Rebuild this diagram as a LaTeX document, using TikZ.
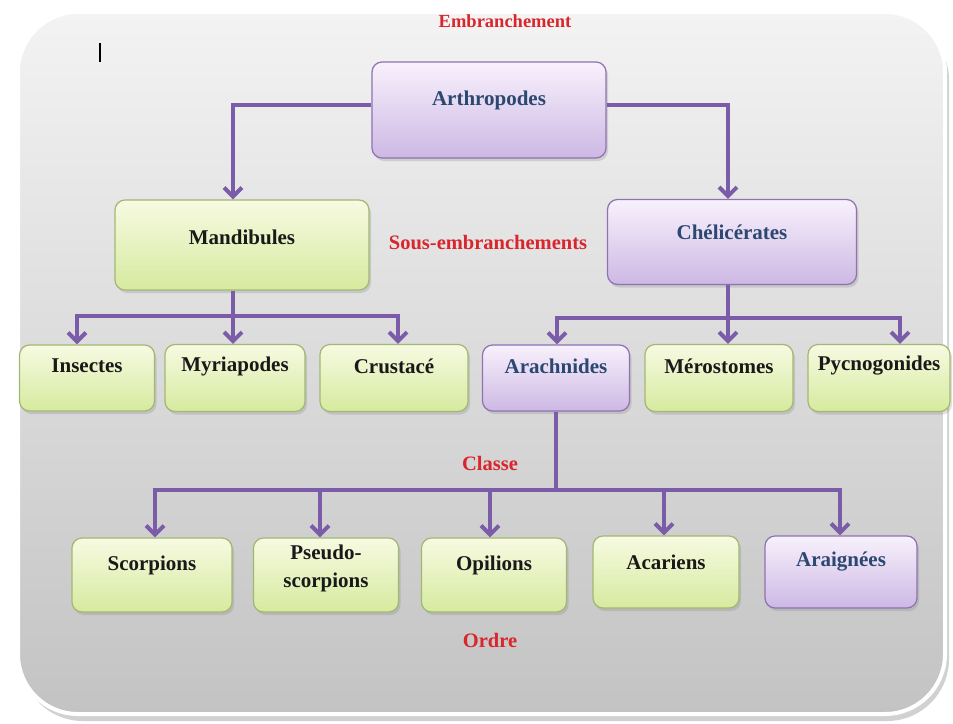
\documentclass[tikz,border=0pt]{standalone}
\usepackage{fontspec}
\setmainfont{Liberation Serif}
\usetikzlibrary{arrows.meta,shadows}
\definecolor{arrowc}{HTML}{7A5CA8}
\definecolor{gtop}{HTML}{F7FAE2}
\definecolor{gbot}{HTML}{D6EA9E}
\definecolor{gborder}{HTML}{A2B872}
\definecolor{ptop}{HTML}{F8F1FC}
\definecolor{pbot}{HTML}{CDB8E4}
\definecolor{pborder}{HTML}{8E72B2}
\definecolor{pblue}{HTML}{2C4770}
\definecolor{labred}{HTML}{D8262C}
\definecolor{paneltop}{HTML}{F3F3F3}
\definecolor{panelbot}{HTML}{C3C3C3}
\begin{document}
\begin{tikzpicture}[x=1pt,y=-1pt,
  box/.style={line width=1.2pt, rounded corners=10pt, drop shadow={shadow xshift=2pt, shadow yshift=-3pt, opacity=.25}},
  gbox/.style={box, draw=gborder, top color=gtop, bottom color=gbot},
  pbox/.style={box, draw=pborder, top color=ptop, bottom color=pbot},
  ntext/.style={font=\fontsize{21}{28}\selectfont\bfseries, text=black!90, align=center},
  ptext/.style={ntext, text=pblue},
  lab/.style={font=\fontsize{20.5}{24}\selectfont\bfseries, text=labred},
  conn/.style={draw=arrowc, line width=4pt, -{Straight Barb[length=9pt,width=18pt]}},
]
\useasboundingbox (0,0) rectangle (953,723);
% panel
\fill[black, opacity=.18, rounded corners=62pt] (21,18) rectangle (949,721);
\draw[white, line width=4pt, rounded corners=60pt, top color=paneltop, bottom color=panelbot] (18,12) rectangle (945,714);
\draw[black, line width=1.5pt] (100,43) -- (100,62);

% boxes
\node[pbox, minimum width=234pt, minimum height=96pt] (arth) at (489,110) {};
\node[gbox, minimum width=254pt, minimum height=90pt] (mand) at (242,245) {};
\node[pbox, minimum width=249pt, minimum height=85pt] (chel) at (732,242) {};
\node[gbox, minimum width=135pt, minimum height=66pt] (ins) at (87,378) {};
\node[gbox, minimum width=140pt, minimum height=67pt] (myr) at (235,378) {};
\node[gbox, minimum width=148pt, minimum height=67pt] (crus) at (394,378) {};
\node[pbox, minimum width=147pt, minimum height=66pt] (arach) at (556,378) {};
\node[gbox, minimum width=148pt, minimum height=67pt] (mero) at (719,378) {};
\node[gbox, minimum width=142pt, minimum height=67pt] (pycno) at (879,378) {};
\node[gbox, minimum width=160pt, minimum height=74pt] (scor) at (152,575) {};
\node[gbox, minimum width=145pt, minimum height=74pt] (pseu) at (326,575) {};
\node[gbox, minimum width=145pt, minimum height=74pt] (opil) at (494,575) {};
\node[gbox, minimum width=146pt, minimum height=72pt] (acar) at (666,572) {};
\node[pbox, minimum width=152pt, minimum height=72pt] (araig) at (841,572) {};

% texts
\node[ptext] (arthT) at ([yshift=10pt]arth.center) {Arthropodes};
\node[ntext] (mandT) at ([yshift=8pt]mand.center) {Mandibules};
\node[ptext] (chelT) at ([yshift=10pt]chel.center) {Chélicérates};
\node[ntext] (insT) at ([yshift=12pt]ins.center) {Insectes};
\node[ntext] (myrT) at ([yshift=12pt]myr.center) {Myriapodes};
\node[ntext] (crusT) at ([yshift=12pt]crus.center) {Crustacé};
\node[ptext] (arachT) at ([yshift=12pt]arach.center) {Arachnides};
\node[ntext] (meroT) at ([yshift=12pt]mero.center) {Mérostomes};
\node[ntext] (pycnoT) at ([yshift=12pt]pycno.center) {Pycnogonides};
\node[ntext] (scorT) at ([yshift=10pt]scor.center) {Scorpions};
\node[ntext] (pseuT) at ([yshift=7pt]pseu.center) {Pseudo-\\scorpions};
\node[ntext] (opilT) at ([yshift=10pt]opil.center) {Opilions};
\node[ntext] (acarT) at ([yshift=10pt]acar.center) {Acariens};
\node[ptext] (araigT) at ([yshift=10pt]araig.center) {Araignées};

% labels
\node[lab, font=\fontsize{18.5}{22}\selectfont\bfseries] (lEmb) at (505,21) {Embranchement};
\node[lab] (lSous) at (488,243) {Sous-embranchements};
\node[lab] (lCl) at (490,463) {Classe};
\node[lab] (lOr) at (490,640) {Ordre};

% connectors
\draw[conn] ([yshift=5pt]arth.west) -| ([xshift=-9pt]mand.north);
\draw[conn] ([yshift=5pt]arth.east) -| ([xshift=-4pt]chel.north);

\draw[draw=arrowc, line width=4pt] ([xshift=-9pt]mand.south) -- ++(0,25) coordinate (mbus);
\draw[conn] (mbus) -| ([xshift=-10pt]ins.north);
\draw[conn] (mbus) -| ([xshift=-2pt]myr.north);
\draw[conn] (mbus) -| ([xshift=4pt]crus.north);

\draw[draw=arrowc, line width=4pt] ([xshift=-4pt]chel.south) -- ++(0,33) coordinate (cbus);
\draw[conn] (cbus) -| ([xshift=1pt]arach.north);
\draw[conn] (cbus) -| ([xshift=9pt]mero.north);
\draw[conn] (cbus) -| ([xshift=21pt]pycno.north);

\draw[draw=arrowc, line width=4pt] (arach.south) -- ++(0,78) coordinate (abus);
\draw[conn] (abus) -| ([xshift=3pt]scor.north);
\draw[conn] (abus) -| ([xshift=-6pt]pseu.north);
\draw[conn] (abus) -| ([xshift=-4pt]opil.north);
\draw[conn] (abus) -| ([xshift=-2pt]acar.north);
\draw[conn] (abus) -| ([xshift=-1pt]araig.north);
\end{tikzpicture}
\end{document}
